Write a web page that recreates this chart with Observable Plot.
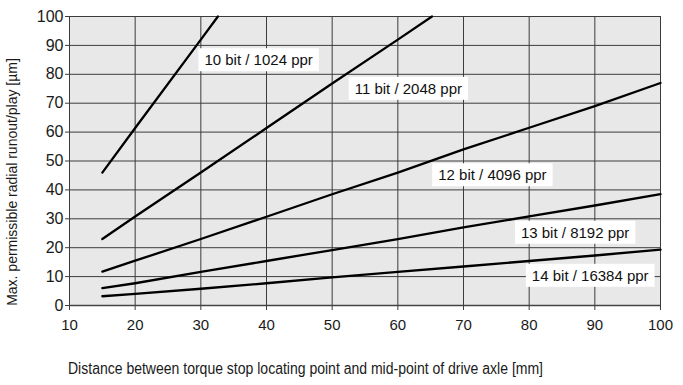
<!DOCTYPE html>
<html><head><meta charset="utf-8">
<script src="https://cdn.jsdelivr.net/npm/d3@7"></script>
<script src="https://cdn.jsdelivr.net/npm/@observablehq/plot@0.6"></script>
<style>
body{margin:0;background:#fff;}
svg{font-family:"Liberation Sans",Arial,Helvetica,sans-serif;}
</style>
</head><body><div id="chart"></div>
<script>
// Tick labels
const xTicks = [10, 20, 30, 40, 50, 60, 70, 80, 90, 100];
const yTicks = [0, 10, 20, 30, 40, 50, 60, 70, 80, 90, 100];

// Series names
const seriesNames = ["10 bit / 1024 ppr", "11 bit / 2048 ppr", "12 bit / 4096 ppr", "13 bit / 8192 ppr", "14 bit / 16384 ppr"];

// Values (distance mm -> runout µm)
const x10 = [15, 20, 30, 32.6];
const y10 = [46, 61.4, 92, 100];
const x11 = [15, 20, 30, 40, 50, 60, 65.2];
const y11 = [23, 30.8, 46, 61.4, 76.8, 92, 100];
const x12 = [15, 20, 30, 40, 50, 60, 70, 80, 90, 100];
const y12 = [11.7, 15.5, 23, 30.7, 38.5, 46, 54, 61.5, 69, 77];
const x13 = [15, 20, 30, 40, 50, 60, 70, 80, 90, 100];
const y13 = [6, 7.7, 11.6, 15.4, 19.2, 23, 27, 30.8, 34.6, 38.5];
const x14 = [15, 20, 30, 40, 50, 60, 70, 80, 90, 100];
const y14 = [3.2, 4, 5.8, 7.7, 9.7, 11.6, 13.5, 15.4, 17.3, 19.3];

// Label anchor positions (data units)
const labelX = [38.8, 61.6, 74.4, 87.0, 89.3];
const labelY = [84.8, 74.9, 45.0, 25.1, 10.2];

const xTitle = "Distance between torque stop locating point and mid-point of drive axle [mm]";
const yTitle = "Max. permissible radial runout/play [µm]";

const xs = [x10, x11, x12, x13, x14];
const ys = [y10, y11, y12, y13, y14];
const rows = [];
seriesNames.forEach((s, i) => xs[i].forEach((x, j) => rows.push({s, x, y: ys[i][j]})));
const labels = seriesNames.map((t, i) => ({t, x: labelX[i], y: labelY[i]}));

const chart = Plot.plot({
  width: 683, height: 385,
  marginLeft: 69, marginRight: 23, marginTop: 16, marginBottom: 80,
  style: {fontFamily: '"Liberation Sans",Arial,sans-serif', background: "#fff", color: "#1a1a1a"},
  x: {domain: [10, 100], label: null},
  y: {domain: [0, 100], label: null},
  marks: [
    Plot.frame({fill: "#e8e8e8", stroke: null}),
    Plot.gridX(xTicks, {stroke: "#3c3c3c", strokeOpacity: 1, strokeWidth: 1}),
    Plot.gridY(yTicks, {stroke: "#3c3c3c", strokeOpacity: 1, strokeWidth: 1}),
    Plot.axisX(xTicks, {tickSize: 5, tickPadding: 9, fontSize: 15, stroke: "#3c3c3c", fill: "#1a1a1a", label: null}),
    Plot.axisY(yTicks, {tickSize: 4, tickPadding: 2, fontSize: 16, stroke: "#3c3c3c", fill: "#1a1a1a", label: null}),
    Plot.ruleY([0], {stroke: "#444", strokeWidth: 1.5}),
    Plot.line(rows, {x: "x", y: "y", z: "s", stroke: "#000", strokeWidth: 2.3}),
    Plot.text(labels, {x: "x", y: "y", text: "t", fontSize: 15, fill: "#111", className: "lbl"})
  ]
});
document.getElementById("chart").appendChild(chart);

// white boxes behind the series labels
const svg = d3.select(chart);
svg.selectAll("g.lbl text").each(function() {
  const b = this.getBBox();
  const g = this.parentNode;
  const r = document.createElementNS("http://www.w3.org/2000/svg", "rect");
  r.setAttribute("x", b.x - 6); r.setAttribute("y", b.y - 3);
  r.setAttribute("width", b.width + 12); r.setAttribute("height", b.height + 6);
  r.setAttribute("fill", "#fff");
  if (this.getAttribute("transform")) r.setAttribute("transform", this.getAttribute("transform"));
  g.insertBefore(r, this);
});

// axis titles
svg.append("text").attr("x", 68).attr("y", 374)
  .attr("text-anchor", "start")
  .attr("font-size", 16).attr("fill", "#1a1a1a")
  .attr("font-family", '"Liberation Sans Narrow","Liberation Sans",Arial,sans-serif')
  .attr("textLength", 475).attr("lengthAdjust", "spacingAndGlyphs")
  .text(xTitle);
svg.append("text").attr("transform", "translate(16.5,182) rotate(-90)")
  .attr("text-anchor", "middle").attr("font-size", 14).attr("fill", "#1a1a1a")
  .text(yTitle);
</script>
</body></html>
